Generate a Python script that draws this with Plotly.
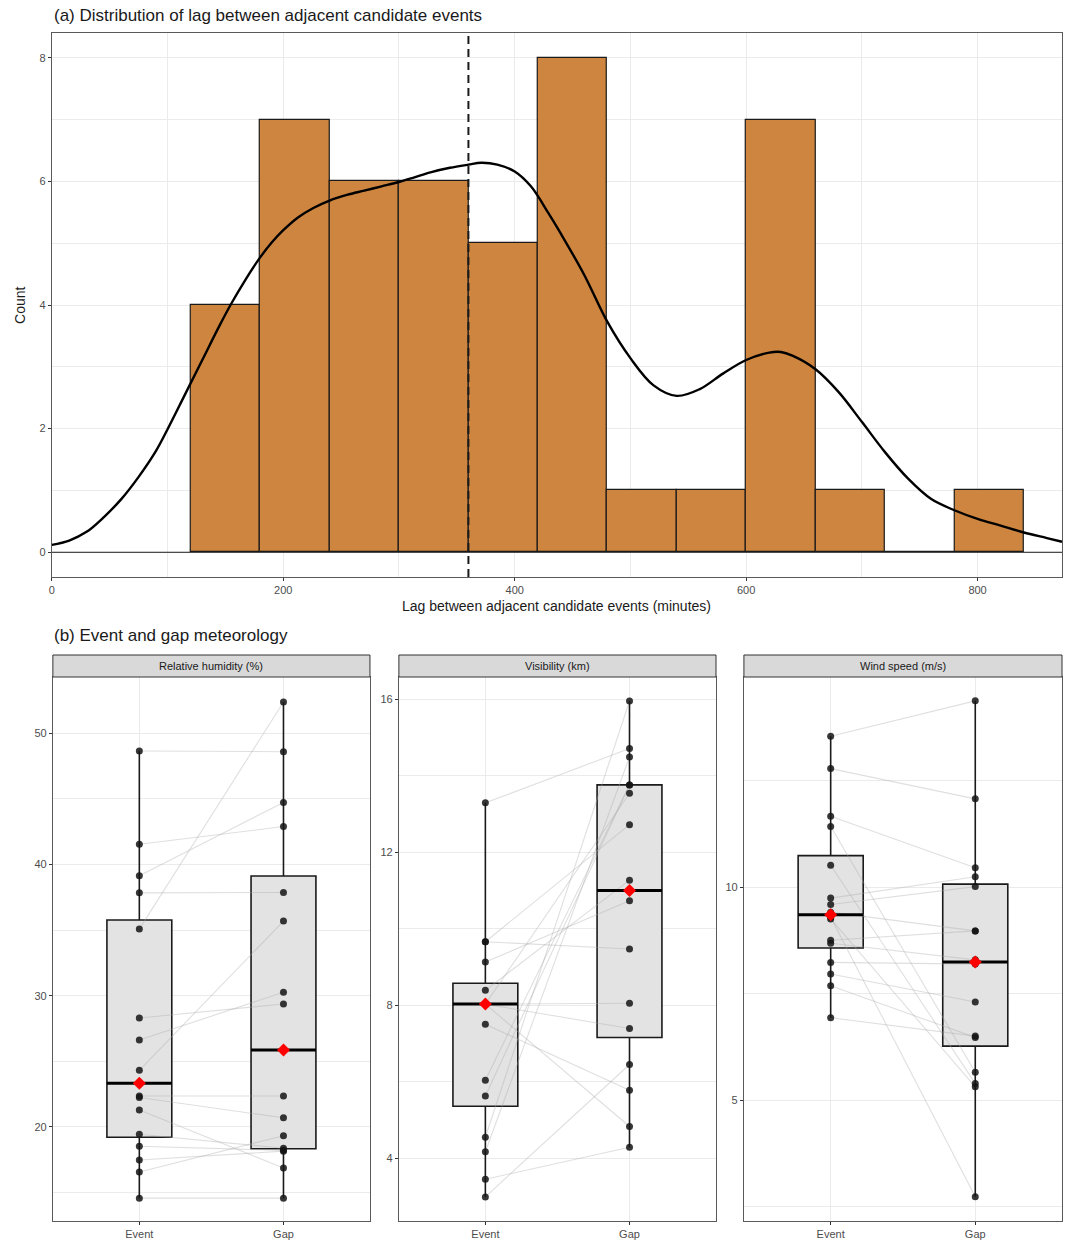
import numpy as np
import plotly.graph_objects as go

W, H = 1069, 1251

# ---------------- (a) histogram data ----------------
bin_start = [120, 180, 240, 300, 360, 420, 480, 540, 600, 660, 720, 780]
bin_width = 60
counts = [4, 7, 6, 6, 5, 8, 1, 1, 7, 1, 0, 1]
median_lag = 360
dens_x = [0, 15, 30, 45, 60, 75, 90, 100, 115, 130, 145, 155, 167, 180, 190, 200,
          213, 226, 240, 255, 270, 285, 300, 314, 328, 344, 360, 371, 385, 400,
          414, 429, 440, 460, 480, 500, 520, 540, 560, 580, 600, 620, 630, 640,
          660, 680, 700, 720, 740, 760, 780, 800, 820, 840, 860, 873]
dens_y = [0.12, 0.19, 0.33, 0.57, 0.86, 1.22, 1.64, 1.99, 2.55, 3.11, 3.67, 4.02,
          4.40, 4.77, 5.01, 5.21, 5.42, 5.57, 5.69, 5.78, 5.85, 5.92, 5.99, 6.07,
          6.15, 6.22, 6.27, 6.30, 6.27, 6.16, 5.92, 5.49, 5.15, 4.49, 3.73, 3.14,
          2.70, 2.53, 2.64, 2.89, 3.11, 3.23, 3.24, 3.18, 2.96, 2.59, 2.11, 1.62,
          1.19, 0.86, 0.68, 0.54, 0.43, 0.32, 0.23, 0.17]
hist_x_ticks = [0, 200, 400, 600, 800]
hist_y_ticks = [0, 2, 4, 6, 8]

# ---------------- (b) paired meteorology data ----------------
categories = ["Event", "Gap"]
panel_titles = ["Relative humidity (%)", "Visibility (km)", "Wind speed (m/s)"]

rh_event = [48.64, 41.53, 39.14, 37.83, 35.07, 28.30, 26.62, 24.32, 22.36, 22.24,
            21.29, 19.45, 18.53, 17.49, 16.57, 14.58]
rh_gap = [48.58, 42.88, 44.72, 37.86, 52.37, 29.37, 30.26, 35.68, 22.36, 20.70,
          16.88, 18.38, 18.22, 18.16, 19.33, 14.58]

vis_event = [13.29, 9.66, 9.66, 9.13, 8.03, 8.03, 8.03, 7.50, 3.45, 2.99, 8.39,
             8.03, 6.04, 5.63, 4.55, 4.17]
vis_gap = [14.71, 9.47, 12.72, 10.73, 8.05, 7.39, 4.83, 5.78, 4.29, 6.45, 11.27,
           13.54, 13.76, 13.76, 15.95, 14.49]

ws_event = [13.55, 12.79, 11.67, 11.43, 10.52, 8.76, 8.69, 8.24, 7.97, 7.69, 6.94,
            9.30, 9.75, 9.60, 9.42, 9.26]
ws_gap = [14.38, 12.08, 10.46, 5.66, 5.40, 8.98, 8.30, 8.20, 7.31, 6.48, 6.51,
          2.74, 10.25, 10.02, 8.98, 5.32]

panel_ticks = [[20, 30, 40, 50], [4, 8, 12, 16], [5, 10]]
panel_dtick = [10, 4, 5]

# ---------------- styling ----------------
FONT = "Liberation Sans, Arial, Helvetica, sans-serif"
GRID = "#EBEBEB"
BORDER = "#5A5A5A"
TICKCOL = "#4D4D4D"
PERU = "#CD853F"


def px_x(p):
    return p / W


def px_y(p):
    return 1 - p / H


fig = go.Figure()

# ---- panel (a)
bar_centers = [s + bin_width / 2 for s in bin_start]
fig.add_trace(go.Bar(x=bar_centers, y=counts, width=bin_width,
                     marker=dict(color=PERU, line=dict(color="#1A1A1A", width=1.2)),
                     xaxis="x", yaxis="y", showlegend=False, hoverinfo="skip"))
fig.add_trace(go.Scatter(x=[dens_x[0], dens_x[-1]], y=[0, 0], mode="lines",
                         line=dict(color="#1A1A1A", width=1),
                         xaxis="x", yaxis="y", showlegend=False, hoverinfo="skip"))
fig.add_trace(go.Scatter(x=dens_x, y=dens_y, mode="lines",
                         line=dict(color="black", width=2.4, shape="spline", smoothing=1.0),
                         xaxis="x", yaxis="y", showlegend=False, hoverinfo="skip"))
fig.add_trace(go.Scatter(x=[median_lag, median_lag], y=[-0.4, 8.4], mode="lines",
                         line=dict(color="#1A1A1A", width=2, dash="8px,5px"),
                         xaxis="x", yaxis="y", showlegend=False, hoverinfo="skip"))

common_axis = dict(showline=True, mirror=True, linecolor=BORDER, linewidth=1,
                   ticks="outside", ticklen=3, tickwidth=1, tickcolor="#333333",
                   tickfont=dict(family=FONT, size=11, color=TICKCOL),
                   gridcolor=GRID, gridwidth=1, zeroline=False)

layout = dict(
    width=W, height=H, margin=dict(l=0, r=0, t=0, b=0),
    paper_bgcolor="white", plot_bgcolor="white",
    font=dict(family=FONT, color="#1A1A1A"),
    bargap=0, showlegend=False,
)
layout["xaxis"] = dict(common_axis, domain=[px_x(49), px_x(1062)], range=[0, 873],
                       tickmode="array", tickvals=hist_x_ticks, anchor="y",
                       minor=dict(dtick=100, tick0=0, showgrid=True, gridcolor=GRID, gridwidth=0.8))
layout["yaxis"] = dict(common_axis, domain=[px_y(577), px_y(33)], range=[-0.4, 8.4],
                       tickmode="array", tickvals=hist_y_ticks, anchor="x",
                       minor=dict(dtick=1, tick0=0, showgrid=True, gridcolor=GRID, gridwidth=0.8))

# ---- panel (b)
panel_data = [(rh_event, rh_gap), (vis_event, vis_gap), (ws_event, ws_gap)]
panel_px = [(50, 368), (397, 715), (743, 1062)]
panel_range = [[12.84, 54.27], [2.36, 16.58], [2.17, 14.94]]
box_w = 0.45

shapes = []
annotations = []

for i, ((ev, gp), (x0p, x1p)) in enumerate(zip(panel_data, panel_px)):
    n = i + 2
    xa, ya = f"x{n}", f"y{n}"
    layout[f"xaxis{n}"] = dict(common_axis, domain=[px_x(x0p), px_x(x1p)], range=[0.4, 2.6],
                               tickmode="array", tickvals=[1, 2], ticktext=categories,
                               anchor=ya)
    t0 = panel_ticks[i][0]
    layout[f"yaxis{n}"] = dict(common_axis, domain=[px_y(1221), px_y(677)], range=panel_range[i],
                               tickmode="linear", tick0=t0, dtick=panel_dtick[i], anchor=xa,
                               minor=dict(dtick=panel_dtick[i] / 2, tick0=t0, showgrid=True,
                                          gridcolor=GRID, gridwidth=0.8))
    groups = [np.array(ev), np.array(gp)]
    # boxes
    for k, vals in enumerate(groups):
        pos = k + 1
        q1, med, q3 = np.percentile(vals, [25, 50, 75])
        iqr = q3 - q1
        lo = vals[vals >= q1 - 1.5 * iqr].min()
        hi = vals[vals <= q3 + 1.5 * iqr].max()
        fig.add_trace(go.Box(x=[pos], q1=[q1], median=[med], q3=[q3],
                             lowerfence=[lo], upperfence=[hi], width=box_w,
                             fillcolor="#E3E3E3", line=dict(color="#1A1A1A", width=1.6),
                             whiskerwidth=0, boxpoints=False, xaxis=xa, yaxis=ya,
                             showlegend=False, hoverinfo="skip"))
    # paired lines
    lx, ly = [], []
    for a, b in zip(ev, gp):
        lx += [1, 2, None]
        ly += [a, b, None]
    fig.add_trace(go.Scatter(x=lx, y=ly, mode="lines",
                             line=dict(color="rgba(170,170,170,0.38)", width=1.1),
                             xaxis=xa, yaxis=ya, showlegend=False, hoverinfo="skip"))
    # median bars
    for k, vals in enumerate(groups):
        pos = k + 1
        med = float(np.median(vals))
        fig.add_trace(go.Scatter(x=[pos - box_w / 2, pos + box_w / 2], y=[med, med], mode="lines",
                                 line=dict(color="black", width=3),
                                 xaxis=xa, yaxis=ya, showlegend=False, hoverinfo="skip"))
    # points
    for k, vals in enumerate(groups):
        pos = k + 1
        fig.add_trace(go.Scatter(x=[pos] * len(vals), y=vals, mode="markers",
                                 marker=dict(color="rgba(20,20,20,0.85)", size=7),
                                 xaxis=xa, yaxis=ya, showlegend=False, hoverinfo="skip"))
    # red median diamonds
    fig.add_trace(go.Scatter(x=[1, 2], y=[float(np.median(g)) for g in groups], mode="markers",
                             marker=dict(color="red", size=10, symbol="diamond"),
                             xaxis=xa, yaxis=ya, showlegend=False, hoverinfo="skip"))
    # strip
    shapes.append(dict(type="rect", xref="paper", yref="paper",
                       x0=px_x(x0p), x1=px_x(x1p), y0=px_y(677), y1=px_y(655),
                       fillcolor="#D9D9D9", line=dict(color="#333333", width=1), layer="above"))
    annotations.append(dict(text=panel_titles[i], xref="paper", yref="paper",
                            x=px_x((x0p + x1p) / 2), y=px_y(666), showarrow=False,
                            xanchor="center", yanchor="middle",
                            font=dict(family=FONT, size=11, color="#1A1A1A")))

annotations += [
    dict(text="(a) Distribution of lag between adjacent candidate events", xref="paper", yref="paper",
         x=px_x(49), y=px_y(16), xanchor="left", yanchor="middle", showarrow=False,
         font=dict(family=FONT, size=17, color="#1A1A1A")),
    dict(text="Lag between adjacent candidate events (minutes)", xref="paper", yref="paper",
         x=px_x(555), y=px_y(606), xanchor="center", yanchor="middle", showarrow=False,
         font=dict(family=FONT, size=14, color="#1A1A1A")),
    dict(text="Count", xref="paper", yref="paper", textangle=-90,
         x=px_x(17), y=px_y(305), xanchor="center", yanchor="middle", showarrow=False,
         font=dict(family=FONT, size=14, color="#1A1A1A")),
    dict(text="(b) Event and gap meteorology", xref="paper", yref="paper",
         x=px_x(49), y=px_y(636), xanchor="left", yanchor="middle", showarrow=False,
         font=dict(family=FONT, size=17, color="#1A1A1A")),
]

layout["shapes"] = shapes
layout["annotations"] = annotations
fig.update_layout(**layout)
fig.write_html("out.html")
